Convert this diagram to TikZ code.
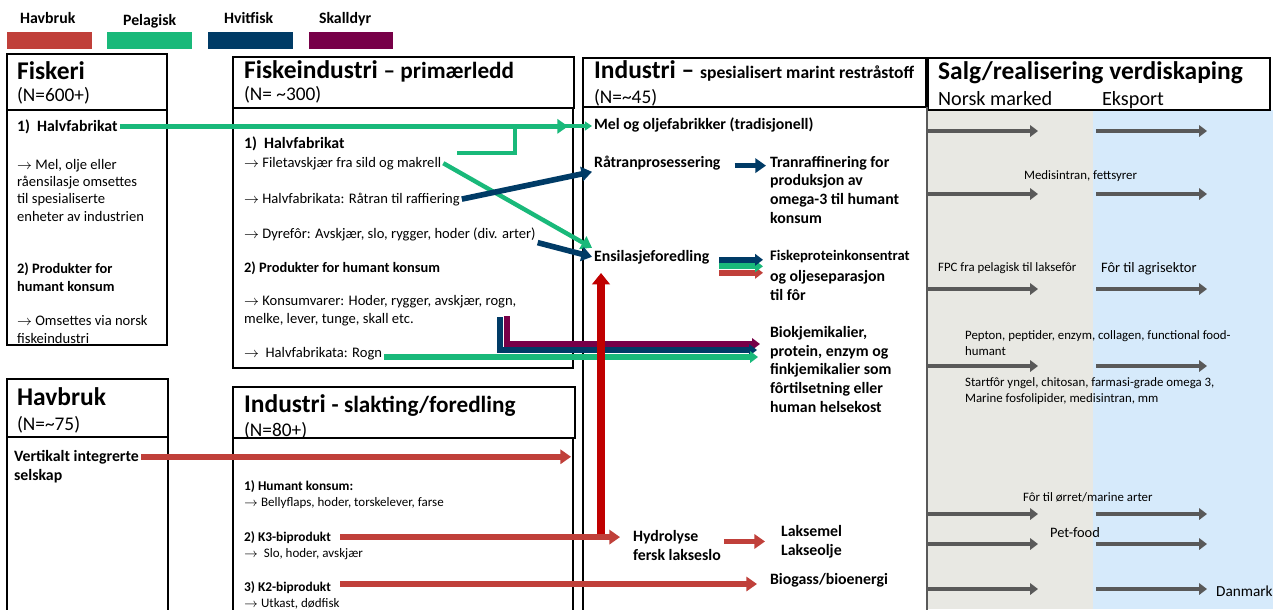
\documentclass[tikz,border=0pt]{standalone}
\usepackage{fontspec}
\setmainfont{Carlito}
\usetikzlibrary{arrows.meta,calc}

\definecolor{havbruk}{HTML}{C0403A}
\definecolor{pelagisk}{HTML}{19B97A}
\definecolor{hvitfisk}{HTML}{003B66}
\definecolor{skalldyr}{HTML}{770048}
\definecolor{sterkrod}{HTML}{C00000}
\definecolor{markgra}{HTML}{595959}
\definecolor{norskbg}{HTML}{E8E8E3}
\definecolor{eksportbg}{HTML}{D6EAFB}

\begin{document}
\begin{tikzpicture}[
  x=0.02cm, y=-0.02cm,
  txt/.style={anchor=base west,inner sep=1pt,align=left},
  legtxt/.style={txt,font=\bfseries\fontsize{9}{11}\selectfont},
  ttltxt/.style={txt,font=\bfseries\fontsize{14.5}{17}\selectfont},
  cnttxt/.style={txt,font=\fontsize{11}{13}\selectfont},
  bodytxt/.style={txt,font=\fontsize{8.3}{9.7}\selectfont},
  bodybf/.style={txt,font=\bfseries\fontsize{8.2}{9.9}\selectfont},
  prodtxt/.style={txt,font=\bfseries\fontsize{9}{10.6}\selectfont},
  smalltxt/.style={txt,font=\fontsize{7.4}{9}\selectfont},
  smallbf/.style={txt,font=\bfseries\fontsize{7.6}{9}\selectfont},
  saletxt/.style={txt,font=\fontsize{7.3}{8.9}\selectfont},
  box/.style={draw,line width=0.6pt,fill=white},
  flow/.style={line width=3.2pt,-{Triangle[length=6pt,width=8pt]}},
  pel/.style={flow,draw=pelagisk,line width=2.8pt},
  hvit/.style={flow,draw=hvitfisk},
  skall/.style={flow,draw=skalldyr},
  hav/.style={flow,draw=havbruk,line width=3.4pt},
  stack/.style={line width=3.2pt,-{Triangle[length=4.5pt,width=6.5pt]}},
  redup/.style={draw=sterkrod,line width=4.5pt,-{Triangle[length=6.5pt,width=10pt]}},
  market/.style={draw=markgra,line width=2.8pt,-{Triangle[length=4.5pt,width=6.5pt]}}
]
\useasboundingbox (0,0) rectangle (1280,609);

% ===== BACKGROUND OF SALES COLUMNS =====
\fill[norskbg] (928,110) rectangle (1093,609);
\fill[eksportbg] (1093,110) rectangle (1273,609);

% ===== LEGEND =====
\node[legtxt] (leg_havbruk) at (18,23) {Havbruk};
\node[legtxt] (leg_pelagisk) at (121,25) {Pelagisk};
\node[legtxt] (leg_hvitfisk) at (222,23) {Hvitfisk};
\node[legtxt] (leg_skalldyr) at (317,23) {Skalldyr};
\fill[havbruk] (7,32) rectangle (92,49);
\fill[pelagisk] (107,32) rectangle (192,49);
\fill[hvitfisk] (208,32) rectangle (293,49);
\fill[skalldyr] (309,32) rectangle (393,49);

% ===== BOXES =====
\draw[box] (7,54) rectangle (167,110);
\draw[box] (7,110) rectangle (167,345);
\draw[box] (233,57) rectangle (574,108);
\draw[box] (233,108) rectangle (573,368);
\draw[box] (583,58) rectangle (926,107);
\draw[box] (583,107) rectangle (927,615);
\draw[box] (928,58) rectangle (1270,110);
\draw[box] (7,379) rectangle (168,437);
\draw[box] (7,437) rectangle (168,615);
\draw[box] (233,387) rectangle (575,438);
\draw[box] (233,438) rectangle (573,615);
\draw[markgra,line width=1.3pt] (927,107) -- (927,615);

% ===== FISKERI =====
% (multi-line nodes sit on the baseline of their last line)
\node[ttltxt] (fiskeri) at (15,79) {Fiskeri};
\node[cnttxt] (fiskeri_n) at (15,101) {(N=600+)};
\node[prodtxt] (fi_halv) at (15,131) {1)\ \ Halvfabrikat};
\node[bodytxt] (fi_mel) at (15,221) {$\rightarrow$ Mel, olje eller\\råensilasje omsettes\\til spesialiserte\\enheter av industrien};
\node[bodybf] (fi_prod) at (15,291) {2) Produkter for\\humant konsum};
\node[bodytxt] (fi_oms) at (15,343) {$\rightarrow$ Omsettes via norsk\\fiskeindustri};

% ===== FISKEINDUSTRI =====
\node[ttltxt] (fiskeind) at (242,78) {Fiskeindustri {\fontsize{13.2}{15}\selectfont – primærledd}};
\node[cnttxt] (fiskeind_n) at (242,100) {(N= \textasciitilde300)};
\node[prodtxt] (fk_halv) at (242,148) {1)\ \ Halvfabrikat};
\node[bodytxt] (fk_filet) at (242,167) {$\rightarrow$ Filetavskjær fra sild og makrell};
\node[bodytxt] (fk_raa) at (242,203) {$\rightarrow$ Halvfabrikata: Råtran til raffiering};
\node[bodytxt] (fk_dyre) at (242,238) {$\rightarrow$ Dyrefôr: Avskjær, slo, rygger, hoder (div. arter)};
\node[bodybf] (fk_prod) at (242,272) {2) Produkter for humant konsum};
\node[bodytxt] (fk_konsum) at (242,323) {$\rightarrow$ Konsumvarer: Hoder, rygger, avskjær, rogn,\\melke, lever, tunge, skall etc.};
\node[bodytxt] (fk_rogn) at (242,357) {$\rightarrow$\ \ Halvfabrikata: Rogn};

% ===== INDUSTRI - SPESIALISERT =====
\node[ttltxt] (industri) at (592,78) {Industri – {\fontsize{10}{12}\selectfont spesialisert marint restråstoff}};
\node[cnttxt] (industri_n) at (592,103) {(N=\textasciitilde45)};
\node[prodtxt] (mel) at (592,129) {Mel og oljefabrikker (tradisjonell)};
\node[prodtxt] (raatran) at (592,167) {Råtranprosessering};
\node[prodtxt] (tranraf) at (768,223) {Tranraffinering for\\produksjon av\\omega-3 til humant\\konsum};
\node[prodtxt] (ensil) at (592,261) {Ensilasjeforedling};
\node[prodtxt,font=\bfseries\fontsize{8.3}{10}\selectfont] (fpc) at (768,260) {Fiskeproteinkonsentrat};
\node[prodtxt] (fpc_olje) at (768,300) {og oljeseparasjon\\til fôr};
\node[prodtxt] (bio) at (768,412) {Biokjemikalier,\\protein, enzym og\\finkjemikalier som\\fôrtilsetning eller\\human helsekost};
\node[prodtxt] (hydro) at (631,560) {Hydrolyse\\fersk lakseslo};
\node[prodtxt] (laks) at (779,555) {Laksemel\\Lakseolje};
\node[prodtxt] (biogass) at (768,584) {Biogass/bioenergi};

% ===== HAVBRUK =====
\node[ttltxt] (havbruk) at (15,405) {Havbruk};
\node[cnttxt] (havbruk_n) at (15,430) {(N=\textasciitilde75)};
\node[prodtxt] (vi_a) at (12,461) {Vertikalt integrerte};
\node[prodtxt] (vi_b) at (12,480) {selskap};

% ===== INDUSTRI - SLAKTING =====
\node[ttltxt] (slakt) at (242,412) {Industri {\fontsize{13.2}{15}\selectfont - slakting/foredling}};
\node[cnttxt] (slakt_n) at (242,436) {(N=80+)};
\node[smallbf] (sl_hum) at (242,490) {1) Humant konsum:};
\node[smalltxt] (sl_belly) at (242,506) {$\rightarrow$ Bellyflaps, hoder, torskelever, farse};
\node[smallbf] (k3) at (242,541) {2) K3-biprodukt};
\node[smalltxt] (sl_slo) at (242,557) {$\rightarrow$\ \ Slo, hoder, avskjær};
\node[smallbf] (k2) at (242,591) {3) K2-biprodukt};
\node[smalltxt] (sl_utkast) at (242,607) {$\rightarrow$ Utkast, dødfisk};

% ===== SALG =====
\node[ttltxt] (salg) at (936,79) {Salg/realisering verdiskaping};
\node[txt,font=\fontsize{11.5}{14}\selectfont] (norsk) at (936,105) {Norsk marked};
\node[txt,font=\fontsize{11.5}{14}\selectfont] (eksport) at (1100,105) {Eksport};
\node[saletxt] (medisin) at (1022,179) {Medisintran, fettsyrer};
\node[saletxt] (fpc_pel) at (936,271) {FPC fra pelagisk til laksefôr};
\node[saletxt,font=\fontsize{8.2}{10}\selectfont] (agri) at (1099,272) {Fôr til agrisektor};
\node[saletxt] (pepton) at (963,355) {Pepton, peptider, enzym, collagen, functional food-\\humant};
\node[saletxt] (startfor) at (963,402) {Startfôr yngel, chitosan, farmasi-grade omega 3,\\Marine fosfolipider, medisintran, mm};
\node[saletxt] (orret) at (1021,501) {Fôr til ørret/marine arter};
\node[saletxt,font=\fontsize{8.2}{10}\selectfont] (petfood) at (1048,537) {Pet-food};
\node[saletxt,font=\fontsize{8.7}{10}\selectfont] (danmark) at (1214,596) {Danmark};

% Market arrows
\foreach \y [count=\i] in {131,194,289,366,514,544,589}{
  \coordinate (no\i) at (927,\y);
  \coordinate (noend\i) at (1038,\y);
  \coordinate (ek\i) at (1096,\y);
  \coordinate (ekend\i) at (1207,\y);
  \draw[market] (no\i) -- (noend\i);
  \draw[market] (ek\i) -- (ekend\i);
}

% ===== FLOWS =====
% pelagisk
\coordinate (fk_branch) at (457,153);
\coordinate (fk_joint) at (515,126);
\draw[pel,line width=1.8pt,-{Triangle[length=4pt,width=5pt]}] (fk_branch) -| (fk_joint) -- (fk_joint -| mel.west);
\draw[pel] (fi_halv.east) -- ($(fi_halv.east -| mel.west)+(-24,0)$);
\draw[pel,line width=2.5pt] (fk_filet.east) -- (ensil.north west);

% hvitfisk
\draw[hvit] (fk_raa.east) -- (raatran.south west);
\draw[hvit] (fk_dyre.south east) -- (ensil.west);
\draw[hvit,line width=2.8pt] ($(raatran.east)+(12,3)$) -- ($(raatran.east -| tranraf.west)+(-2,3)$);

% to Fiskeproteinkonsentrat
\draw[stack,draw=havbruk] ($(ensil.east)+(8,16)$) -- ($(ensil.east -| fpc.west)+(-5,16)$);
\draw[stack,draw=pelagisk] ($(ensil.east)+(8,9.5)$) -- ($(ensil.east -| fpc.west)+(-5,9.5)$);
\draw[stack,draw=hvitfisk] ($(ensil.east)+(8,3)$) -- ($(ensil.east -| fpc.west)+(-5,3)$);

% to Biokjemikalier
\coordinate (sk_top) at (507,316);
\coordinate (sk_end) at (760,344);
\coordinate (hv_top) at (500,317);
\coordinate (hv_end) at (757,350);
\coordinate (rogn_end) at (758,357);
\draw[stack,draw=skalldyr] (sk_top) |- (sk_end);
\draw[stack,draw=hvitfisk] (hv_top) |- (hv_end);
\draw[stack,draw=pelagisk] (fk_rogn.east |- rogn_end) -- (rogn_end);

% havbruk
\coordinate (slakt_end) at (571,457);
\coordinate (k2_end) at (757,584);
\draw[hav] (vi_a.east) -- (vi_a.east -| slakt_end);
\draw[hav] ($(k3.east)+(7,0)$) -- ($(k3.east -| hydro.west)+(-11,0)$);
\draw[hav,line width=3pt] ($(laks.west -| hydro.east)+(1,0)$) -- ($(laks.west)+(-14,0)$);
\draw[hav] ($(k2.east |- k2_end)+(7,0)$) -- (k2_end);

\coordinate (k3_up) at (601,534);
\coordinate (ensil_in) at (601,273);
\draw[redup] (k3_up) -- (ensil_in);

\end{tikzpicture}
\end{document}
